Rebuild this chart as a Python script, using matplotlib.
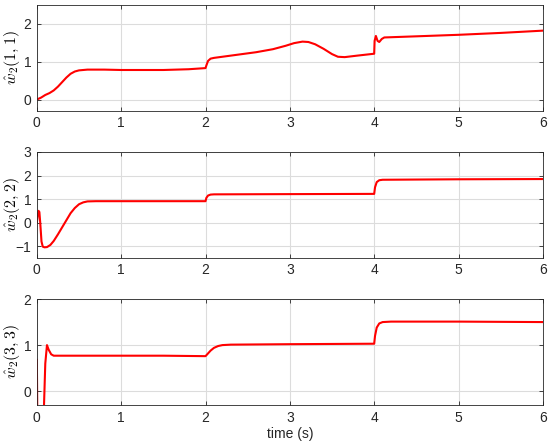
import matplotlib
matplotlib.use("Agg")
import matplotlib.pyplot as plt
import numpy as np

plt.rcParams['font.family'] = ['Liberation Sans', 'DejaVu Sans']
plt.rcParams['mathtext.fontset'] = 'cm'

# w2(1,1)
t1 = [0, 0.02, 0.05, 0.1, 0.15, 0.2, 0.25, 0.3, 0.35, 0.4, 0.45, 0.5, 0.6, 0.8, 1.0, 1.5, 1.8, 2.0,
      2.01, 2.03, 2.06, 2.1, 2.3, 2.6, 2.8, 2.95, 3.05, 3.15, 3.22, 3.3, 3.4, 3.5, 3.57, 3.65, 3.8, 4.0,
      4.005, 4.02, 4.04, 4.06, 4.09, 4.12, 4.5, 5.0, 5.5, 6.0]
w11 = [0.0, 0.02, 0.05, 0.12, 0.17, 0.24, 0.34, 0.46, 0.58, 0.68, 0.74, 0.77, 0.79, 0.79, 0.78, 0.78, 0.80, 0.83,
       0.9, 1.02, 1.08, 1.1, 1.16, 1.25, 1.33, 1.42, 1.49, 1.53, 1.52, 1.46, 1.34, 1.2, 1.13, 1.12, 1.16, 1.21,
       1.55, 1.68, 1.55, 1.52, 1.6, 1.64, 1.67, 1.71, 1.76, 1.82]

# w2(2,2)
t2 = [0, 0.01, 0.02, 0.03, 0.04, 0.055, 0.07, 0.09, 0.12, 0.16, 0.2, 0.25, 0.3, 0.35, 0.4, 0.45, 0.5,
      0.55, 0.6, 0.7, 1.0, 1.5, 2.0, 2.01, 2.03, 2.06, 2.1, 3.0, 4.0, 4.01, 4.03, 4.06, 4.1, 5.0, 6.0]
w22 = [0.0, 0.3, 0.5, 0.45, 0.0, -0.8, -1.02, -1.05, -1.04, -0.95, -0.78, -0.5, -0.2, 0.1, 0.4, 0.62, 0.78,
       0.86, 0.9, 0.91, 0.91, 0.91, 0.91, 1.05, 1.15, 1.19, 1.2, 1.21, 1.22, 1.5, 1.72, 1.8, 1.82, 1.84, 1.85]

# w2(3,3)
t3 = [0, 0.01, 0.03, 0.06, 0.085, 0.1, 0.12, 0.14, 0.17, 0.2, 0.3, 1.0, 1.5, 2.0,
      2.02, 2.06, 2.1, 2.15, 2.2, 2.3, 3.0, 4.0, 4.01, 4.03, 4.06, 4.1, 4.2, 5.0, 6.0]
w33 = [0.68, -1.5, -3.0, -2.0, -0.3, 0.6, 1.0, 0.9, 0.8, 0.77, 0.77, 0.77, 0.77, 0.76,
       0.8, 0.88, 0.94, 0.98, 1.0, 1.01, 1.02, 1.03, 1.2, 1.38, 1.47, 1.5, 1.51, 1.51, 1.5]

labels = [r'$\hat{w}_2(1,1)$', r'$\hat{w}_2(2,2)$', r'$\hat{w}_2(3,3)$']
series = [(t1, w11), (t2, w22), (t3, w33)]
ylims = [(-0.3, 2.5), (-1.5, 3), (-0.3, 2)]
yticks = [[0, 1, 2], [-1, 0, 1, 2, 3], [0, 1, 2]]

fig = plt.figure(figsize=(5.5, 4.47), dpi=100)
boxes = [[0.067, 0.752, 0.92, 0.237], [0.067, 0.423, 0.92, 0.237], [0.067, 0.094, 0.92, 0.237]]

for i in range(3):
    ax = fig.add_axes(boxes[i])
    t, w = series[i]
    ax.plot(t, w, color='red', lw=1.5)
    ax.set_xlim(0, 6)
    ax.set_ylim(*ylims[i])
    ax.set_yticks(yticks[i])
    ax.set_xticks(range(7))
    ax.grid(True, color='#dcdcdc', lw=0.8)
    ax.tick_params(direction='in', top=True, right=True, labelsize=10,
                   colors='#262626', length=3, width=0.6, pad=4)
    for s in ax.spines.values():
        s.set_color('#262626')
        s.set_linewidth(0.6)
    ax.set_ylabel(labels[i], fontsize=11.5)
    ax.yaxis.set_label_coords(-0.03, 0.5)
    if i == 2:
        ax.set_xlabel('time (s)', fontsize=10, color='#262626', labelpad=2)

fig.savefig('out.png', dpi=100)
